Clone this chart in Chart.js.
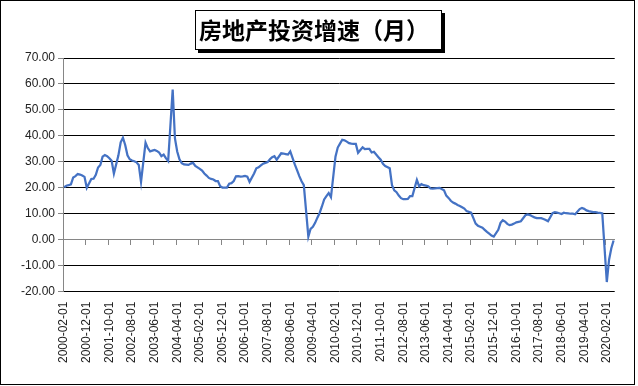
<!DOCTYPE html>
<html>
<head>
<meta charset="utf-8">
<script src="https://cdn.jsdelivr.net/npm/chart.js@4/dist/chart.umd.min.js"></script>
<style>
  body { margin: 0; background: #fff; }
  canvas { display: block; }
</style>
</head>
<body>
<canvas id="myChart" width="638" height="386"></canvas>
<script>
const chartTitle = "房地产投资增速（月）";

// cumulative yoy growth, Jan has no own value (Jan-Feb reported together)
const y2000 = [20.2, 20.8, 21.0, 21.3, 24.0, 24.5, 25.3, 25.1, 24.7, 24.2, 20.0]; // Feb-Dec
const y2001 = [null, 23.4, 23.5, 25.0, 27.8, 28.8, 32.0, 32.6, 32.2, 31.4, 30.4, 25.5];
const y2002 = [null, 32.5, 37.5, 39.3, 36.5, 32.5, 31.0, 30.5, 30.2, 29.8, 28.8, 22.3];
const y2003 = [null, 37.4, 35.3, 34.0, 34.3, 34.6, 34.2, 33.6, 32.2, 32.8, 31.4, 30.3];
const y2004 = [null, 57.8, 39.0, 34.0, 31.0, 29.5, 29.0, 28.9, 28.8, 29.3, 29.6, 28.4];
const y2005 = [null, 27.3, 26.6, 25.5, 24.7, 23.8, 23.4, 23.2, 22.6, 22.6, 20.6, 20.1];
const y2006 = [null, 20.1, 21.6, 21.8, 22.6, 24.4, 24.5, 24.3, 24.4, 24.6, 24.3, 22.3];
const y2007 = [null, 25.5, 27.5, 27.9, 28.6, 29.3, 29.6, 29.9, 31.0, 31.8, 32.2, 30.8];
const y2008 = [null, 33.3, 33.2, 33.0, 32.8, 34.0, 31.5, 29.0, 26.8, 24.5, 22.5, 21.0];
const y2009 = [null, 1.2, 4.2, 5.0, 6.5, 8.5, 10.3, 12.8, 15.5, 16.8, 18.0, 16.4];
const y2010 = [null, 32.0, 35.5, 37.0, 38.5, 38.3, 37.8, 37.2, 37.0, 36.9, 36.9, 33.5];
const y2011 = [null, 35.6, 34.9, 35.0, 35.0, 33.6, 33.9, 32.8, 31.8, 30.8, 29.2, 28.4];
const y2012 = [null, 27.5, 21.0, 19.0, 18.3, 17.0, 16.0, 15.6, 15.6, 15.7, 16.8, 16.8];
const y2013 = [null, 23.0, 20.6, 21.4, 21.0, 20.8, 20.6, 19.8, 19.7, 19.8, 19.9, 20.0];
const y2014 = [null, 19.0, 17.0, 16.1, 15.0, 14.3, 13.9, 13.4, 13.0, 12.5, 12.0, 11.0];
const y2015 = [null, 10.4, 8.3, 6.2, 5.4, 5.0, 4.6, 3.8, 3.0, 2.3, 1.6, 1.2];
const y2016 = [null, 3.8, 6.5, 7.5, 7.0, 6.1, 5.6, 5.8, 6.2, 6.7, 6.9, 7.1];
const y2017 = [null, 9.4, 9.7, 9.5, 9.0, 8.6, 8.3, 8.3, 8.3, 8.0, 7.6, 7.1];
const y2018 = [null, 10.2, 10.6, 10.4, 10.2, 9.9, 10.4, 10.2, 10.1, 10.0, 10.0, 9.8];
const y2019 = [null, 11.8, 12.2, 11.9, 11.3, 11.0, 10.8, 10.6, 10.6, 10.4, 10.3, 10.1];
const y2020 = [null, -16.3, -7.7, -3.3, -0.3]; // Jan-May

const growth = [].concat(y2000, y2001, y2002, y2003, y2004, y2005, y2006, y2007,
    y2008, y2009, y2010, y2011, y2012, y2013, y2014, y2015, y2016, y2017,
    y2018, y2019, y2020);

const yTicks = [-20, -10, 0, 10, 20, 30, 40, 50, 60, 70];

// months from 2000-02-01 on, one per value
const allMonths = () => {
    const months = [];
    for (let i = 0; i < growth.length; i++) {
        const m = i + 1;
        const year = 2000 + Math.floor(m / 12);
        const month = String((m % 12) + 1).padStart(2, "0");
        months.push(year + "-" + month + "-01");
    }
    return months;
};
const months = allMonths();

const axisGrey = "#868686";
const tickFont = { family: "Liberation Sans", size: 12 };

const frameAndTitle = {
    id: "frameAndTitle",
    afterDraw(chart) {
        const c = chart.ctx;
        c.save();
        c.strokeStyle = "#000";
        c.lineWidth = 1;
        c.strokeRect(0.5, 0.5, 634, 384);
        // title box with shadow
        c.fillStyle = "#000";
        c.fillRect(198, 13, 247, 40);
        c.fillStyle = "#fff";
        c.fillRect(195, 10, 247, 40);
        c.strokeRect(195.5, 10.5, 246, 39);
        c.fillStyle = "#000";
        c.font = "bold 23px 'Noto Sans CJK SC'";
        c.textAlign = "center";
        c.textBaseline = "middle";
        c.fillText(chartTitle, 314, 30);
        c.restore();
    },
};

new Chart(document.getElementById("myChart"), {
    type: "line",
    data: {
        labels: months,
        datasets: [
            {
                label: chartTitle,
                data: growth,
                borderColor: "#4472C4",
                borderWidth: 2.25,
                pointRadius: 0,
                spanGaps: true,
                tension: 0,
            },
        ],
    },
    options: {
        responsive: false,
        animation: false,
        layout: { padding: { top: 58, left: 18, right: 9, bottom: 13 } },
        plugins: { legend: { display: false }, tooltip: { enabled: false } },
        scales: {
            x: {
                offset: true,
                grid: { display: false, drawTicks: false },
                border: { display: false },
                ticks: {
                    autoSkip: false,
                    minRotation: 90,
                    maxRotation: 90,
                    padding: 10,
                    color: "#222",
                    font: tickFont,
                    callback: (v, i) => (i % 10 === 0 ? months[i] : ""),
                },
            },
            xZero: {
                axis: "x",
                position: { y: 0 },
                offset: true,
                grid: {
                    offset: true,
                    drawOnChartArea: false,
                    tickLength: 5,
                    color: (ctx) => (ctx.index % 10 === 0 ? axisGrey : "rgba(0,0,0,0)"),
                },
                border: { color: axisGrey, width: 1 },
                ticks: { display: false, autoSkip: false },
            },
            y: {
                min: -20,
                max: 70,
                afterBuildTicks: (scale) => {
                    scale.ticks = yTicks.map((v) => ({ value: v }));
                },
                grid: { color: "#000", tickColor: axisGrey, tickLength: 5 },
                border: { color: axisGrey },
                ticks: {
                    color: "#222",
                    font: tickFont,
                    padding: 3,
                    callback: (v) => v.toFixed(2),
                },
            },
        },
    },
    plugins: [frameAndTitle],
});
</script>
</body>
</html>
